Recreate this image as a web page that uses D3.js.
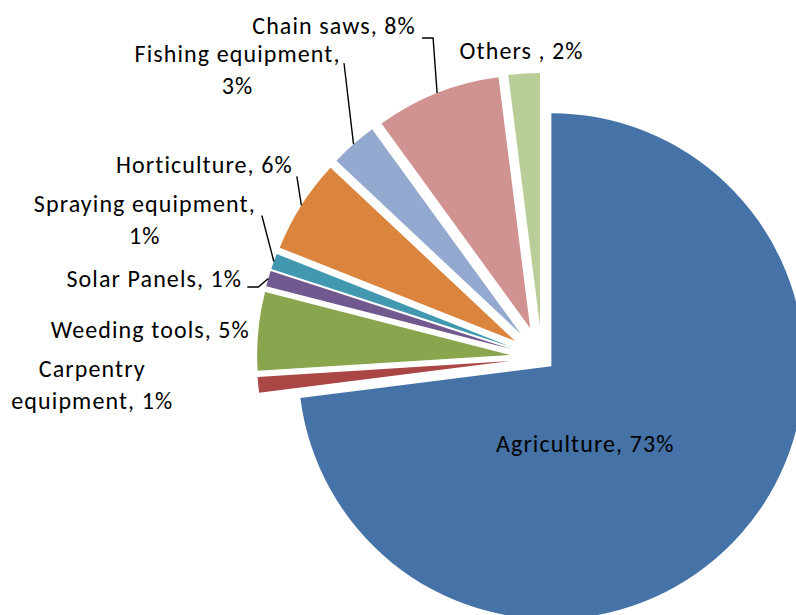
<!DOCTYPE html>
<html>
<head>
<meta charset="utf-8">
<script src="https://cdn.jsdelivr.net/npm/d3@7"></script>
<style>
  body { margin: 0; background: #fff; }
  svg { display: block; }
  .lbl { font-family: Carlito, Calibri, Lato, sans-serif; font-size: 24px; letter-spacing: 1.1px; fill: #000; }
</style>
</head>
<body>
<svg id="chart" width="796" height="615"></svg>
<script>
// data
var categories = ["Agriculture", "Carpentry equipment", "Weeding tools", "Solar Panels",
                  "Spraying equipment", "Horticulture", "Fishing equipment", "Chain saws", "Others "];
var shares = [73, 1, 5, 1, 1, 6, 3, 8, 2];

// look
var colors = ["#4572A7", "#AA4643", "#89A54E", "#71588F", "#4198AF",
              "#DB843D", "#93A9CF", "#D19392", "#B9CD96"];
var cx = 542, cy = 358, radius = 253;
var explode = [12.5, 32, 32, 32, 32, 32, 32, 32, 32];

// label offsets from the slice's outer mid point (text-anchor middle, first baseline)
// wrap = words on the first line, lead = leader line points (offsets too)
var labelPos = {
  "Agriculture":          { dx: -61,  dy: 2,   inside: true },
  "Carpentry equipment":  { dx: -166, dy: -8,  wrap: 1 },
  "Weeding tools":        { dx: -108, dy: 7 },
  "Solar Panels":         { dx: -114, dy: 8.5, lead: [[-21, 8.5], [-10, 8.5], [0, 0]] },
  "Spraying equipment":   { dx: -129, dy: -49, wrap: 2, lead: [[-12, -46], [0, 0]] },
  "Horticulture":         { dx: -97,  dy: -32, lead: [[-4.5, -29], [0, 0]] },
  "Fishing equipment":    { dx: -116, dy: -82, wrap: 2, lead: [[-9.5, -81], [0, 0]] },
  "Chain saws":           { dx: -103, dy: -59, lead: [[-15, -55], [-4, -55], [0, 0]] },
  "Others ":              { dx: -2.5, dy: -14.5 }
};
var lineH = 32;

var svg = d3.select("#chart");

var pie = d3.pie().sort(null).value(function(d) { return d; });
var arcs = pie(shares);

var arc = d3.arc().innerRadius(0).outerRadius(radius);

function dir(d) {
  var m = (d.startAngle + d.endAngle) / 2;
  return [Math.sin(m), -Math.cos(m)];
}

var slices = svg.append("g");

slices.selectAll("path")
  .data(arcs)
  .enter()
  .append("path")
  .attr("d", arc)
  .attr("fill", function(d, i) { return colors[i]; })
  .attr("transform", function(d, i) {
    var u = dir(d);
    return "translate(" + (cx + u[0] * explode[i]) + "," + (cy + u[1] * explode[i]) + ")";
  });

// labels
var labels = svg.append("g");

arcs.forEach(function(d, i) {
  var name = categories[i];
  var p = labelPos[name];
  var u = dir(d);
  var ox, oy;
  if (p.inside) {
    var c = arc.centroid(d);
    ox = cx + u[0] * explode[i] + c[0];
    oy = cy + u[1] * explode[i] + c[1];
  } else {
    ox = cx + u[0] * (radius + explode[i]);
    oy = cy + u[1] * (radius + explode[i]);
  }

  if (p.lead) {
    labels.append("path")
      .attr("d", d3.line()(p.lead.map(function(q) { return [ox + q[0], oy + q[1]]; })))
      .attr("fill", "none")
      .attr("stroke", "#000")
      .attr("stroke-width", 1.4);
  }

  var text = name + ", " + d.data + "%";
  var words = text.split(" ");
  var lines = p.wrap ? [words.slice(0, p.wrap).join(" "), words.slice(p.wrap).join(" ")] : [text];

  var t = labels.append("text")
    .attr("class", "lbl")
    .attr("text-anchor", "middle")
    .attr("x", ox + p.dx)
    .attr("y", oy + p.dy);

  lines.forEach(function(s, k) {
    t.append("tspan")
      .attr("x", ox + p.dx)
      .attr("dy", k == 0 ? 0 : lineH)
      .text(s);
  });
});
</script>
</body>
</html>
